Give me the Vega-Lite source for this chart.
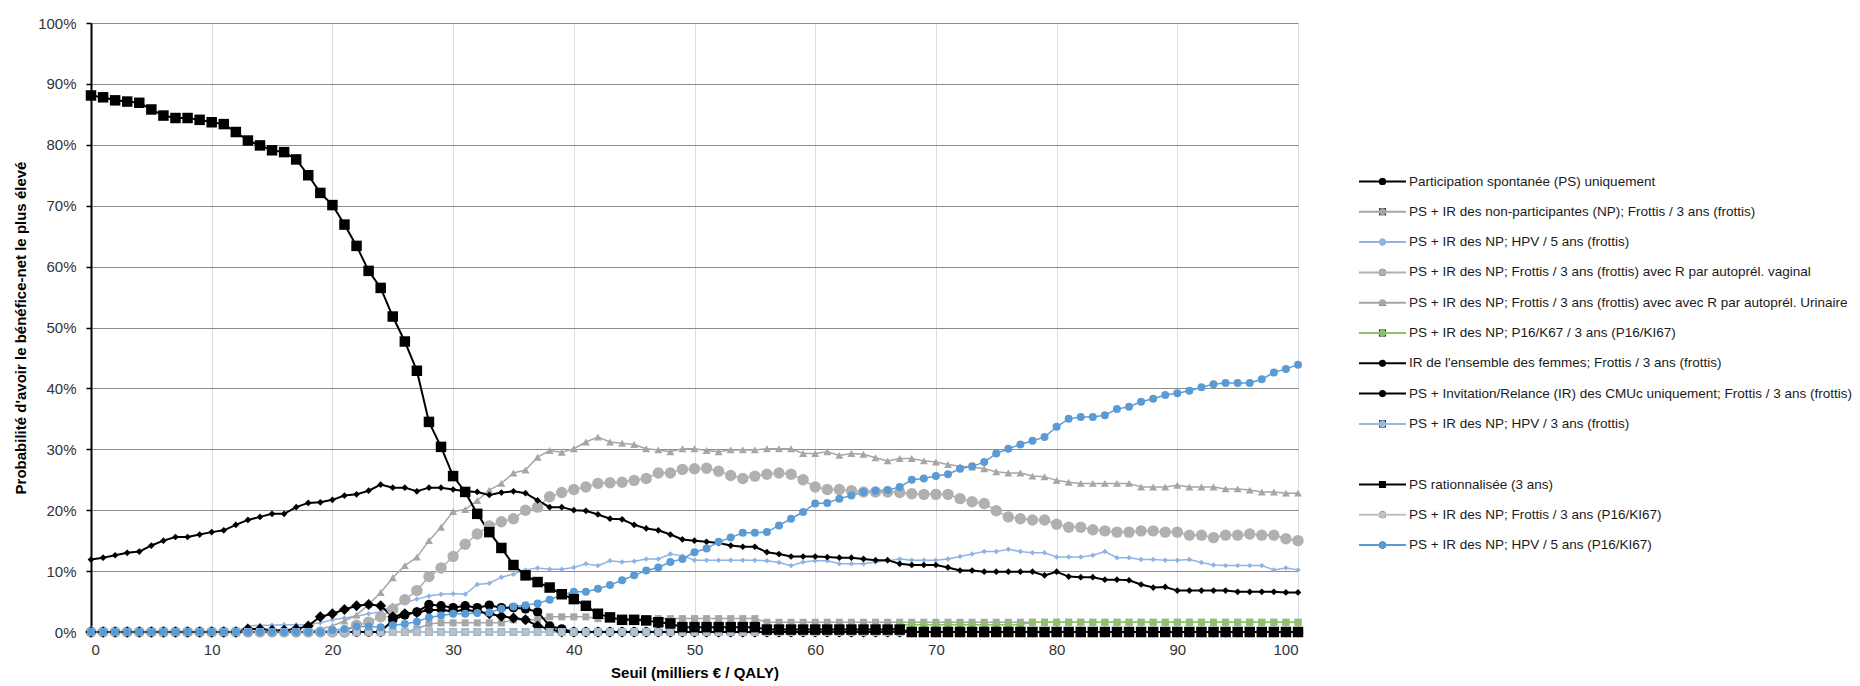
{
"$schema":"https://vega.github.io/schema/vega-lite/v6.json",
"width":1207,"height":609,
"autosize":{"type":"none"},
"padding":{"left":91,"top":23,"right":562,"bottom":54},
"background":"white",
"config":{"view":{"stroke":null},"font":"Liberation Sans"},
"data":{"values":[
{"x":0,"a":0,"b":0,"c":0,"d":0,"e":0,"f":0,"g":11.9,"h":0,"i":0,"j":88.1,"k":0,"l":0},
{"x":1,"a":0,"b":0,"c":0,"d":0,"e":0,"f":0,"g":12.2,"h":0,"i":0,"j":87.8,"k":0,"l":0},
{"x":2,"a":0,"b":0,"c":0,"d":0,"e":0,"f":0,"g":12.6,"h":0,"i":0,"j":87.3,"k":0,"l":0},
{"x":3,"a":0,"b":0,"c":0,"d":0,"e":0,"f":0,"g":13,"h":0,"i":0,"j":87.1,"k":0,"l":0},
{"x":4,"a":0,"b":0,"c":0,"d":0,"e":0,"f":0,"g":13.2,"h":0,"i":0,"j":86.9,"k":0,"l":0},
{"x":5,"a":0,"b":0,"c":0,"d":0,"e":0,"f":0,"g":14.2,"h":0,"i":0,"j":85.8,"k":0,"l":0},
{"x":6,"a":0,"b":0,"c":0,"d":0,"e":0,"f":0,"g":15,"h":0,"i":0,"j":84.8,"k":0,"l":0},
{"x":7,"a":0,"b":0,"c":0,"d":0,"e":0,"f":0,"g":15.6,"h":0,"i":0,"j":84.4,"k":0,"l":0},
{"x":8,"a":0,"b":0,"c":0,"d":0,"e":0,"f":0,"g":15.6,"h":0,"i":0,"j":84.4,"k":0,"l":0},
{"x":9,"a":0,"b":0,"c":0,"d":0,"e":0,"f":0,"g":16,"h":0,"i":0,"j":84.1,"k":0,"l":0},
{"x":10,"a":0,"b":0,"c":0,"d":0,"e":0,"f":0,"g":16.4,"h":0,"i":0,"j":83.7,"k":0,"l":0},
{"x":11,"a":0,"b":0,"c":0,"d":0,"e":0,"f":0,"g":16.7,"h":0,"i":0,"j":83.4,"k":0,"l":0},
{"x":12,"a":0,"b":0,"c":0,"d":0,"e":0,"f":0,"g":17.6,"h":0,"i":0,"j":82.1,"k":0,"l":0},
{"x":13,"a":0,"b":0,"c":1,"d":0,"e":0,"f":0,"g":18.4,"h":0.5,"i":0,"j":80.7,"k":0,"l":0},
{"x":14,"a":0,"b":0,"c":1.1,"d":0,"e":0,"f":0,"g":18.9,"h":0.5,"i":0,"j":79.9,"k":0,"l":0},
{"x":15,"a":0,"b":0,"c":1.1,"d":0,"e":0,"f":0,"g":19.4,"h":0.3,"i":0,"j":79.1,"k":0,"l":0},
{"x":16,"a":0,"b":0,"c":1.2,"d":0,"e":0,"f":0,"g":19.4,"h":0.3,"i":0,"j":78.8,"k":0,"l":0},
{"x":17,"a":0,"b":0,"c":1.2,"d":0,"e":0,"f":0,"g":20.5,"h":0.5,"i":0,"j":77.6,"k":0,"l":0},
{"x":18,"a":0,"b":0,"c":1.2,"d":0,"e":0,"f":0,"g":21.2,"h":1,"i":0,"j":75,"k":0,"l":0},
{"x":19,"a":0,"b":0,"c":1.5,"d":0,"e":0.5,"f":0,"g":21.3,"h":2.5,"i":0,"j":72.1,"k":0,"l":0},
{"x":20,"a":0,"b":0,"c":2,"d":0,"e":1,"f":0,"g":21.7,"h":3,"i":0,"j":70.1,"k":0,"l":0.3},
{"x":21,"a":0,"b":0,"c":2.3,"d":0,"e":1.8,"f":0,"g":22.4,"h":3.7,"i":0,"j":66.9,"k":0,"l":0.5},
{"x":22,"a":0,"b":0,"c":2.6,"d":1.1,"e":2.8,"f":0,"g":22.6,"h":4.3,"i":0,"j":63.4,"k":0,"l":0.9},
{"x":23,"a":0,"b":0,"c":3,"d":1.6,"e":4.5,"f":0,"g":23.2,"h":4.5,"i":0,"j":59.3,"k":0,"l":0.9},
{"x":24,"a":0,"b":0,"c":3.3,"d":2.5,"e":6.5,"f":0,"g":24.2,"h":4.3,"i":0,"j":56.5,"k":0,"l":0.8},
{"x":25,"a":2,"b":0,"c":4.4,"d":3.7,"e":8.9,"f":0,"g":23.7,"h":2.5,"i":0,"j":51.8,"k":0,"l":1.1},
{"x":26,"a":2.8,"b":0,"c":4.8,"d":5.3,"e":10.9,"f":0,"g":23.7,"h":3,"i":0,"j":47.7,"k":0,"l":1.3},
{"x":27,"a":3.3,"b":0.5,"c":5.4,"d":6.8,"e":12.3,"f":0,"g":23.1,"h":3.2,"i":0,"j":42.9,"k":0,"l":1.7},
{"x":28,"a":4.5,"b":1.3,"c":5.9,"d":9.1,"e":15,"f":0,"g":23.7,"h":3.6,"i":0,"j":34.5,"k":0,"l":2.4},
{"x":29,"a":4.3,"b":1.5,"c":6.2,"d":10.5,"e":17.2,"f":0,"g":23.7,"h":3.6,"i":0,"j":30.4,"k":0,"l":2.7},
{"x":30,"a":4,"b":1.5,"c":6.3,"d":12.4,"e":19.8,"f":0,"g":23.4,"h":3.4,"i":0,"j":25.6,"k":0,"l":3},
{"x":31,"a":4.3,"b":1.5,"c":6.2,"d":14.4,"e":20.1,"f":0,"g":23.1,"h":3.6,"i":0,"j":23,"k":0,"l":3},
{"x":32,"a":4,"b":1.5,"c":7.8,"d":16.1,"e":21.6,"f":0,"g":23,"h":3.4,"i":0,"j":19.4,"k":0,"l":3.1},
{"x":33,"a":4.4,"b":1.5,"c":8,"d":17.4,"e":23.3,"f":0,"g":22.5,"h":3,"i":0,"j":16.4,"k":0,"l":3.2},
{"x":34,"a":4,"b":1.5,"c":9,"d":18.1,"e":24.4,"f":0,"g":22.9,"h":2.6,"i":0,"j":13.8,"k":0,"l":3.8},
{"x":35,"a":4,"b":2,"c":9.5,"d":18.6,"e":26.1,"f":0,"g":23.1,"h":2.3,"i":0,"j":11,"k":0,"l":4.2},
{"x":36,"a":3.8,"b":2,"c":10.2,"d":20,"e":26.6,"f":0,"g":22.8,"h":2,"i":0,"j":9.3,"k":0,"l":4.4},
{"x":37,"a":3.3,"b":2,"c":10.5,"d":20.5,"e":28.7,"f":0,"g":21.6,"h":1,"i":0,"j":8.2,"k":0,"l":4.7},
{"x":38,"a":1,"b":2.5,"c":10.3,"d":22.2,"e":29.8,"f":0,"g":20.5,"h":0.5,"i":0,"j":7.3,"k":0,"l":5.3},
{"x":39,"a":0.5,"b":2.5,"c":10.3,"d":22.9,"e":29.5,"f":0,"g":20.5,"h":0,"i":0,"j":6.2,"k":0,"l":6.1},
{"x":40,"a":0,"b":2.5,"c":10.6,"d":23.4,"e":30.1,"f":0,"g":20,"h":0,"i":0,"j":5.4,"k":0,"l":6.6},
{"x":41,"a":0,"b":2.5,"c":11.2,"d":23.8,"e":31.2,"f":0,"g":19.9,"h":0,"i":0,"j":4.3,"k":0,"l":6.6},
{"x":42,"a":0,"b":2.2,"c":10.9,"d":24.4,"e":32,"f":0,"g":19.3,"h":0,"i":0,"j":3,"k":0,"l":7.1},
{"x":43,"a":0,"b":2.2,"c":11.7,"d":24.5,"e":31.2,"f":0,"g":18.6,"h":0,"i":0,"j":2.4,"k":0,"l":7.7},
{"x":44,"a":0,"b":2.2,"c":11.5,"d":24.6,"e":31,"f":0,"g":18.5,"h":0,"i":0,"j":2,"k":0,"l":8.5},
{"x":45,"a":0,"b":2.2,"c":11.6,"d":24.9,"e":30.8,"f":0,"g":17.6,"h":0,"i":0,"j":2,"k":0,"l":9.3},
{"x":46,"a":0,"b":2.2,"c":12,"d":25.2,"e":30.1,"f":0,"g":17,"h":0,"i":0,"j":1.9,"k":0,"l":10.1},
{"x":47,"a":0,"b":2.2,"c":12,"d":26.1,"e":29.9,"f":0,"g":16.7,"h":0,"i":0,"j":1.6,"k":0,"l":10.6},
{"x":48,"a":0,"b":2.2,"c":12.8,"d":26.1,"e":29.6,"f":0,"g":16,"h":0,"i":0,"j":1.4,"k":0,"l":11.5},
{"x":49,"a":0,"b":2.2,"c":12.5,"d":26.7,"e":30.1,"f":0,"g":15.2,"h":0,"i":0,"j":0.8,"k":0,"l":12},
{"x":50,"a":0,"b":2.2,"c":11.8,"d":26.8,"e":30.1,"f":0,"g":15,"h":0,"i":0,"j":0.8,"k":0,"l":13.1},
{"x":51,"a":0,"b":2.2,"c":11.8,"d":26.9,"e":29.8,"f":0,"g":14.8,"h":0,"i":0,"j":0.8,"k":0,"l":13.7},
{"x":52,"a":0,"b":2.2,"c":11.8,"d":26.4,"e":29.6,"f":0,"g":14.6,"h":0,"i":0,"j":0.8,"k":0,"l":14.8},
{"x":53,"a":0,"b":2.2,"c":11.8,"d":25.7,"e":29.9,"f":0,"g":14.2,"h":0,"i":0,"j":0.8,"k":0,"l":15.5},
{"x":54,"a":0,"b":2.2,"c":11.8,"d":25.2,"e":29.9,"f":0,"g":14,"h":0,"i":0,"j":0.8,"k":0,"l":16.3},
{"x":55,"a":0,"b":2.2,"c":11.8,"d":25.6,"e":29.9,"f":0,"g":14,"h":0,"i":0,"j":0.8,"k":0,"l":16.3},
{"x":56,"a":0,"b":1.6,"c":11.7,"d":25.9,"e":30.1,"f":0,"g":13.1,"h":0,"i":0,"j":0.4,"k":0,"l":16.4},
{"x":57,"a":0,"b":1.6,"c":11.4,"d":26.1,"e":30.1,"f":0,"g":12.8,"h":0,"i":0,"j":0.4,"k":0,"l":17.5},
{"x":58,"a":0,"b":1.6,"c":10.9,"d":25.9,"e":30.1,"f":0,"g":12.4,"h":0,"i":0,"j":0.4,"k":0,"l":18.6},
{"x":59,"a":0,"b":1.6,"c":11.5,"d":25,"e":29.3,"f":0,"g":12.4,"h":0,"i":0,"j":0.4,"k":0,"l":19.7},
{"x":60,"a":0,"b":1.6,"c":11.7,"d":23.8,"e":29.3,"f":0,"g":12.4,"h":0,"i":0,"j":0.4,"k":0,"l":21.1},
{"x":61,"a":0,"b":1.6,"c":11.7,"d":23.4,"e":29.6,"f":0,"g":12.3,"h":0,"i":0,"j":0.4,"k":0,"l":21.2},
{"x":62,"a":0,"b":1.6,"c":11.2,"d":23.4,"e":29,"f":0,"g":12.2,"h":0,"i":0,"j":0.4,"k":0,"l":21.9},
{"x":63,"a":0,"b":1.6,"c":11.2,"d":23.2,"e":29.3,"f":0,"g":12.2,"h":0,"i":0,"j":0.4,"k":0,"l":22.4},
{"x":64,"a":0,"b":1.6,"c":11.2,"d":23,"e":29.2,"f":0,"g":12,"h":0,"i":0,"j":0.4,"k":0,"l":23},
{"x":65,"a":0,"b":1.6,"c":11.5,"d":23,"e":28.6,"f":0,"g":11.8,"h":0,"i":0,"j":0.4,"k":0,"l":23.2},
{"x":66,"a":0,"b":1.6,"c":11.7,"d":23,"e":28.1,"f":0,"g":11.8,"h":0,"i":0,"j":0.4,"k":0,"l":23.3},
{"x":67,"a":0,"b":1.6,"c":12,"d":22.9,"e":28.5,"f":1.2,"g":11.2,"h":0,"i":0,"j":0.4,"k":0,"l":23.8},
{"x":68,"a":0,"b":1.6,"c":11.8,"d":22.7,"e":28.5,"f":1.2,"g":11,"h":0,"i":0,"j":0,"k":0,"l":25},
{"x":69,"a":0,"b":1.6,"c":11.8,"d":22.6,"e":28.1,"f":1.2,"g":11,"h":0,"i":0,"j":0,"k":0,"l":25.2},
{"x":70,"a":0,"b":1.6,"c":11.8,"d":22.6,"e":27.9,"f":1.2,"g":11,"h":0,"i":0,"j":0,"k":0,"l":25.6},
{"x":71,"a":0,"b":1.6,"c":12,"d":22.6,"e":27.5,"f":1.2,"g":10.6,"h":0,"i":0,"j":0,"k":0,"l":25.9},
{"x":72,"a":0,"b":1.6,"c":12.4,"d":21.9,"e":27.2,"f":1.2,"g":10.1,"h":0,"i":0,"j":0,"k":0,"l":26.8},
{"x":73,"a":0,"b":1.6,"c":12.8,"d":21.4,"e":27.1,"f":1.2,"g":10.1,"h":0,"i":0,"j":0,"k":0,"l":27.2},
{"x":74,"a":0,"b":1.6,"c":13.2,"d":21.1,"e":26.8,"f":1.2,"g":9.9,"h":0,"i":0,"j":0,"k":0,"l":27.9},
{"x":75,"a":0,"b":1.6,"c":13.2,"d":19.9,"e":26.3,"f":1.2,"g":9.9,"h":0,"i":0,"j":0,"k":0,"l":29.3},
{"x":76,"a":0,"b":1.6,"c":13.6,"d":18.9,"e":26.1,"f":1.2,"g":9.9,"h":0,"i":0,"j":0,"k":0,"l":30.1},
{"x":77,"a":0,"b":1.6,"c":13.2,"d":18.6,"e":26.1,"f":1.2,"g":9.9,"h":0,"i":0,"j":0,"k":0,"l":30.8},
{"x":78,"a":0,"b":1.6,"c":13,"d":18.4,"e":25.6,"f":1.6,"g":9.9,"h":0,"i":0,"j":0,"k":0,"l":31.4},
{"x":79,"a":0,"b":1.6,"c":13,"d":18.4,"e":25.5,"f":1.6,"g":9.3,"h":0,"i":0,"j":0,"k":0,"l":32},
{"x":80,"a":0,"b":1.6,"c":12.3,"d":17.7,"e":24.9,"f":1.6,"g":9.9,"h":0,"i":0,"j":0,"k":0,"l":33.7},
{"x":81,"a":0,"b":1.6,"c":12.3,"d":17.2,"e":24.6,"f":1.6,"g":9.1,"h":0,"i":0,"j":0,"k":0,"l":35},
{"x":82,"a":0,"b":1.6,"c":12.3,"d":17.2,"e":24.4,"f":1.6,"g":9,"h":0,"i":0,"j":0,"k":0,"l":35.3},
{"x":83,"a":0,"b":1.6,"c":12.6,"d":16.8,"e":24.4,"f":1.6,"g":9,"h":0,"i":0,"j":0,"k":0,"l":35.3},
{"x":84,"a":0,"b":1.6,"c":13.2,"d":16.6,"e":24.4,"f":1.6,"g":8.6,"h":0,"i":0,"j":0,"k":0,"l":35.6},
{"x":85,"a":0,"b":1.6,"c":12.2,"d":16.4,"e":24.4,"f":1.6,"g":8.6,"h":0,"i":0,"j":0,"k":0,"l":36.6},
{"x":86,"a":0,"b":1.6,"c":12.2,"d":16.4,"e":24.4,"f":1.6,"g":8.5,"h":0,"i":0,"j":0,"k":0,"l":37},
{"x":87,"a":0,"b":1.6,"c":11.9,"d":16.6,"e":23.8,"f":1.6,"g":7.8,"h":0,"i":0,"j":0,"k":0,"l":37.8},
{"x":88,"a":0,"b":1.6,"c":11.9,"d":16.6,"e":23.8,"f":1.6,"g":7.3,"h":0,"i":0,"j":0,"k":0,"l":38.3},
{"x":89,"a":0,"b":1.6,"c":11.8,"d":16.4,"e":23.8,"f":1.6,"g":7.4,"h":0,"i":0,"j":0,"k":0,"l":38.9},
{"x":90,"a":0,"b":1.6,"c":11.8,"d":16.4,"e":24.1,"f":1.6,"g":6.8,"h":0,"i":0,"j":0,"k":0,"l":39.2},
{"x":91,"a":0,"b":1.6,"c":11.9,"d":15.9,"e":23.8,"f":1.6,"g":6.8,"h":0,"i":0,"j":0,"k":0,"l":39.6},
{"x":92,"a":0,"b":1.6,"c":11.4,"d":15.9,"e":23.8,"f":1.6,"g":6.8,"h":0,"i":0,"j":0,"k":0,"l":40.2},
{"x":93,"a":0,"b":1.6,"c":11,"d":15.5,"e":23.8,"f":1.6,"g":6.8,"h":0,"i":0,"j":0,"k":0,"l":40.7},
{"x":94,"a":0,"b":1.6,"c":10.9,"d":15.9,"e":23.5,"f":1.6,"g":6.8,"h":0,"i":0,"j":0,"k":0,"l":40.9},
{"x":95,"a":0,"b":1.6,"c":10.9,"d":15.9,"e":23.5,"f":1.6,"g":6.6,"h":0,"i":0,"j":0,"k":0,"l":40.9},
{"x":96,"a":0,"b":1.6,"c":10.9,"d":16.1,"e":23.3,"f":1.6,"g":6.6,"h":0,"i":0,"j":0,"k":0,"l":40.9},
{"x":97,"a":0,"b":1.6,"c":10.9,"d":15.9,"e":23,"f":1.6,"g":6.6,"h":0,"i":0,"j":0,"k":0,"l":41.5},
{"x":98,"a":0,"b":1.6,"c":10.2,"d":15.9,"e":23,"f":1.6,"g":6.6,"h":0,"i":0,"j":0,"k":0,"l":42.6},
{"x":99,"a":0,"b":1.6,"c":10.5,"d":15.3,"e":22.8,"f":1.6,"g":6.5,"h":0,"i":0,"j":0,"k":0,"l":43.2},
{"x":100,"a":0,"b":1.6,"c":10.2,"d":15,"e":22.8,"f":1.6,"g":6.5,"h":0,"i":0,"j":0,"k":0,"l":43.9}
]},
"transform":[{"fold":["a","b","c","d","e","f","g","h","i","k","l","j"],"as":["s","p"]}],
"encoding":{
 "x":{"field":"x","type":"quantitative","scale":{"domain":[0,100],"nice":false},
  "axis":{"values":[0,10,20,30,40,50,60,70,80,90,100],"format":"d","grid":true,"gridColor":"#d9dde6","gridWidth":1,"domain":true,"domainColor":"#8c8c8c","domainWidth":1,"ticks":false,"labelFont":"Liberation Sans","labelFontSize":15,"labelColor":"#333333","labelPadding":10,"title":"Seuil (milliers € / QALY)","titleFont":"Liberation Sans","titleFontSize":15,"titleFontWeight":"bold","titleColor":"#000000","titlePadding":8}},
 "y":{"field":"p","type":"quantitative","scale":{"domain":[0,100],"nice":false},
  "axis":{"values":[0,10,20,30,40,50,60,70,80,90,100],"labelExpr":"datum.value + '%'","grid":true,"gridColor":"#8c8c8c","gridWidth":1,"domain":true,"domainColor":"#000000","domainWidth":2,"ticks":true,"tickSize":5,"tickColor":"#000000","tickWidth":1.5,"labelFont":"Liberation Sans","labelFontSize":15,"labelColor":"#333333","labelPadding":10,"title":"Probabilité d'avoir le bénéfice-net le plus élevé","titleFont":"Liberation Sans","titleFontSize":15,"titleFontWeight":"bold","titleColor":"#000000","titlePadding":9}}
},
"layer":[
 {"encoding":{"color":{"field":"s","type":"nominal",
   "scale":{"domain":["a","b","c","d","e","f","g","h","i","z","j","k","l"],"range":["#000000","#a6a6a6","#8eb4e3","#b0b0b0","#a6a6a6","#8fc16c","#000000","#000000","#95b9e0","#ffffff","#000000","#c0c0c0","#5b9bd5"]},
   "legend":{"title":null,"orient":"none","legendX":1267,"legendY":151.5,"symbolType":"stroke","symbolSize":2209,"symbolStrokeWidth":2,"clipHeight":14,"rowPadding":16.3,"padding":0,"labelFont":"Liberation Sans","labelFontSize":13.5,"labelColor":"#1a1a1a","labelOffset":2,"labelLimit":700,
   "labelExpr":"datum.value=='a'?'Participation spontanée (PS) uniquement':datum.value=='b'?'PS + IR des non-participantes (NP); Frottis / 3 ans (frottis)':datum.value=='c'?'PS + IR des NP; HPV / 5 ans (frottis)':datum.value=='d'?'PS + IR des NP; Frottis / 3 ans (frottis) avec R par autoprél. vaginal':datum.value=='e'?'PS + IR des NP; Frottis / 3 ans (frottis) avec avec R par autoprél. Urinaire':datum.value=='f'?'PS + IR des NP; P16/K67 / 3 ans (P16/KI67)':datum.value=='g'?\"IR de l'ensemble des femmes; Frottis / 3 ans (frottis)\":datum.value=='h'?'PS +  Invitation/Relance (IR) des CMUc uniquement; Frottis / 3 ans (frottis)':datum.value=='i'?'PS + IR des NP; HPV / 3 ans (frottis)':datum.value=='j'?'PS rationnalisée (3 ans)':datum.value=='k'?'PS + IR des NP; Frottis / 3 ans (P16/KI67)':datum.value=='l'?'PS + IR des NP; HPV / 5 ans (P16/KI67)':''"}}},
  "layer":[
   {"transform":[{"filter":{"field":"s","oneOf":["b","c","d","e","f","i","k","l"]}}],"mark":{"type":"line","strokeWidth":1.5}},
   {"transform":[{"filter":{"field":"s","oneOf":["a","g","h","j"]}}],"mark":{"type":"line","strokeWidth":2}}
  ]},
 {"encoding":{
   "color":{"field":"s","type":"nominal",
    "scale":{"domain":["a","b","c","d","e","f","g","h","i","z","j","k","l"],"range":["#000000","#a6a6a6","#8eb4e3","#b0b0b0","#a6a6a6","#8fc16c","#000000","#000000","#95b9e0","#ffffff","#000000","#c0c0c0","#5b9bd5"]},
    "legend":{"title":null,"orient":"none","legendX":1284.75,"legendY":151.5,"symbolSize":50,"symbolStrokeWidth":0,"clipHeight":14,"rowPadding":16.3,"padding":0,"labelFontSize":13.5,"labelOpacity":0,"labelExpr":"''"}},
   "shape":{"field":"s","type":"nominal",
    "scale":{"domain":["a","b","c","d","e","f","g","h","i","z","j","k","l"],"range":["circle","square","diamond","circle","triangle-up","square","diamond","diamond","square","M0,0L0,0","square","circle","circle"]},
    "legend":{"title":null,"orient":"none","legendX":1284.75,"legendY":151.5,"symbolSize":50,"symbolStrokeWidth":0,"clipHeight":14,"rowPadding":16.3,"padding":0,"labelFontSize":13.5,"labelOpacity":0,"labelExpr":"''"}}},
  "layer":[
   {"transform":[{"filter":{"field":"s","equal":"a"}}],"mark":{"type":"point","filled":true,"opacity":1,"size":90}},
   {"transform":[{"filter":{"field":"s","equal":"b"}}],"mark":{"type":"point","filled":true,"opacity":1,"size":49}},
   {"transform":[{"filter":{"field":"s","equal":"c"}}],"mark":{"type":"point","filled":true,"opacity":1,"size":30}},
   {"transform":[{"filter":{"field":"s","equal":"d"}}],"mark":{"type":"point","filled":true,"opacity":1,"size":130}},
   {"transform":[{"filter":{"field":"s","equal":"e"}}],"mark":{"type":"point","filled":true,"opacity":1,"size":64}},
   {"transform":[{"filter":{"field":"s","equal":"f"}}],"mark":{"type":"point","filled":true,"opacity":1,"size":49}},
   {"transform":[{"filter":{"field":"s","equal":"g"}}],"mark":{"type":"point","filled":true,"opacity":1,"size":45}},
   {"transform":[{"filter":{"field":"s","equal":"h"}}],"mark":{"type":"point","filled":true,"opacity":1,"size":120}},
   {"transform":[{"filter":{"field":"s","equal":"i"}}],"mark":{"type":"point","filled":true,"opacity":1,"size":64}},
   {"transform":[{"filter":{"field":"s","equal":"k"}}],"mark":{"type":"point","filled":true,"opacity":1,"size":36}},
   {"transform":[{"filter":{"field":"s","equal":"l"}}],"mark":{"type":"point","filled":true,"opacity":1,"size":64}},
   {"transform":[{"filter":{"field":"s","equal":"j"}}],"mark":{"type":"point","filled":true,"opacity":1,"size":110}}
  ]}
],
"resolve":{"scale":{"color":"independent"},"legend":{"color":"independent"}}
}
